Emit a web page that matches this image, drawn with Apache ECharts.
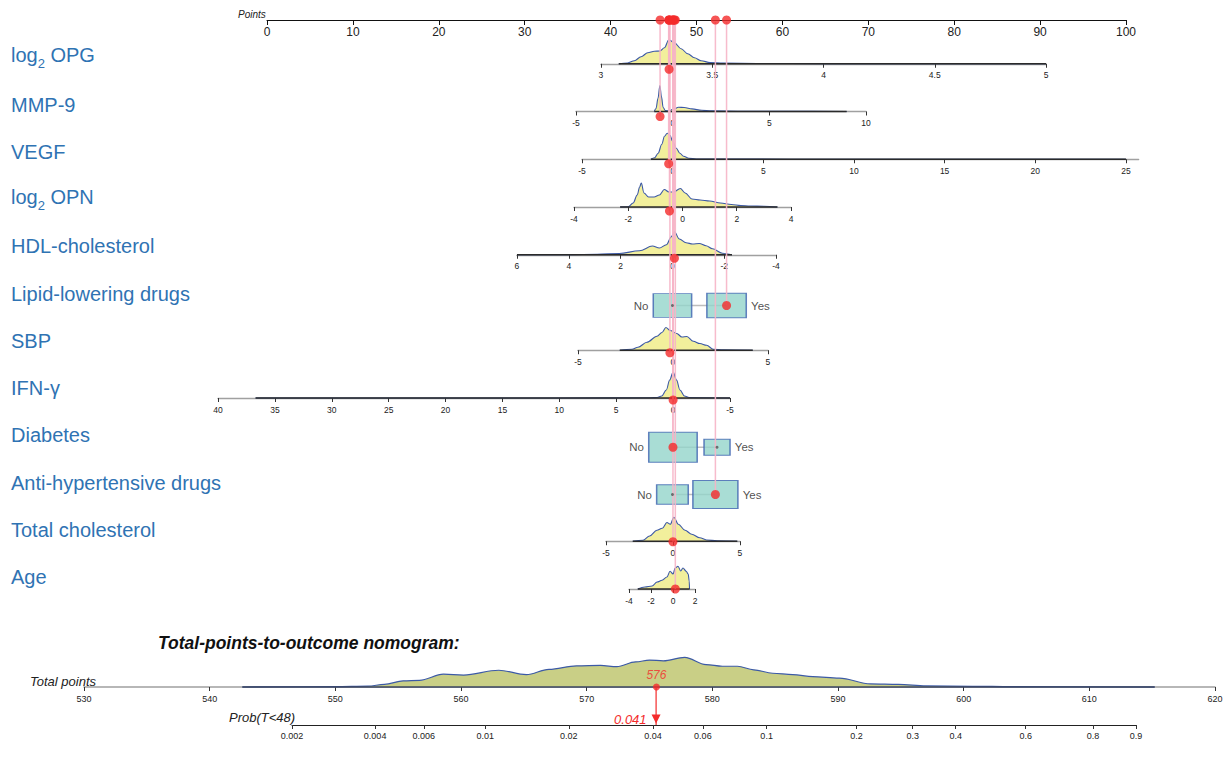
<!DOCTYPE html>
<html>
<head>
<meta charset="utf-8">
<title>Nomogram</title>
<script src="https://cdn.jsdelivr.net/npm/echarts@6/dist/echarts.min.js"></script>
<style>
  html, body { margin: 0; padding: 0; background: #fff; }
  #chart { width: 1230px; height: 763px; }
</style>
</head>
<body>
<div id="chart"></div>
<script>
// Rows of the nomogram, top to bottom (row 0 is the Points scale)
const rowNames = ['', 'log2 OPG', 'MMP-9', 'VEGF', 'log2 OPN', 'HDL-cholesterol', 'Lipid-lowering drugs',
  'SBP', 'IFN-γ', 'Diabetes', 'Anti-hypertensive drugs', 'Total cholesterol', 'Age'];

// Continuous predictors
const contNames = ['log2 OPG', 'MMP-9', 'VEGF', 'log2 OPN', 'HDL-cholesterol', 'SBP', 'IFN-γ', 'Total cholesterol', 'Age'];
const contRange = [[3, 5], [-5, 10], [-5, 25.7], [-4, 4], [-4, 6], [-5, 5], [-5, 40], [-5, 5], [-4, 2]];
const contStep = [0.5, 5, 5, 2, 2, 5, 5, 5, 2];
// points given at the low and high end of each range
const contPoints = [[38.88, 90.69], [35.97, 69.73], [36.67, 101.47], [35.74, 61.0], [59.25, 29.1],
  [36.2, 58.32], [53.9, -5.7], [39.46, 55.06], [42.14, 49.83]];
const contObserved = [3.306, -0.65, -0.22, -0.48, -0.08, -0.16, 0, 0, 0.21];

// Density curves, [value, relative height]
const densOPG = [[3.08, 0], [3.12, 0.8], [3.15, 3], [3.18, 7], [3.21, 11], [3.24, 12.5], [3.265, 12.8], [3.285, 16],
  [3.305, 24], [3.33, 21], [3.36, 15], [3.39, 10], [3.42, 6], [3.45, 3], [3.49, 1.2], [3.55, 0.6], [3.7, 0.3],
  [4.0, 0.15], [4.5, 0.1], [5.0, 0]];
const densMMP9 = [[-0.95, 0], [-0.86, 3], [-0.76, 13], [-0.66, 26], [-0.58, 15], [-0.49, 4], [-0.38, 1], [-0.2, 0.6],
  [0.05, 2.5], [0.3, 4.2], [0.6, 4], [1.0, 2.6], [1.5, 1.2], [2.0, 0.6], [3.5, 0.3], [6.0, 0.15], [9.0, 0]];
const densVEGF = [[-1.2, 0], [-1.0, 1.5], [-0.8, 6], [-0.6, 15], [-0.45, 23], [-0.3, 26], [-0.15, 24], [0, 18],
  [0.2, 11], [0.4, 6], [0.6, 3], [0.9, 1], [1.3, 0.3], [3, 0.1], [10, 0.05], [25, 0]];
const densOPN = [[-2.3, 0], [-2.0, 0.3], [-1.82, 4], [-1.67, 12], [-1.58, 20], [-1.52, 24], [-1.42, 14], [-1.25, 10],
  [-1.05, 10], [-0.85, 12], [-0.67, 17.5], [-0.5, 15], [-0.33, 15], [-0.08, 18.5], [0.1, 14], [0.35, 8], [0.65, 7],
  [1.0, 6], [1.4, 4], [1.8, 2.5], [2.15, 1.5], [2.5, 1], [3.0, 0.7], [3.5, 0]];
const densHDL = [[6, 0], [4, 0.1], [2.9, 0.4], [2.05, 1.3], [1.27, 4], [0.77, 8.7], [0.5, 6.7], [0.23, 10], [0.04, 18],
  [-0.08, 23], [-0.27, 15.7], [-0.53, 12], [-0.78, 10.7], [-1.04, 11.3], [-1.3, 9], [-1.55, 6], [-1.93, 1.5], [-2.3, 0]];
const densSBP = [[-2.8, 0], [-2.16, 1], [-1.84, 3], [-1.37, 8], [-0.84, 14], [-0.58, 17.7], [-0.37, 22.7], [-0.16, 20],
  [0.2, 16.7], [0.47, 13.3], [0.73, 13.7], [1.07, 9], [1.42, 6.7], [1.77, 5], [2.12, 1], [2.65, 0.5], [4.2, 0]];
const densIFN = [[36.7, 0], [10, 0.05], [2, 0.2], [1.4, 0.5], [1.0, 2], [0.6, 8], [0.3, 18], [0, 26], [-0.3, 18],
  [-0.6, 8], [-1.0, 2], [-1.4, 0.5], [-5, 0]];
const densTC = [[-3.0, 0], [-2.24, 1], [-1.74, 5.3], [-1.2, 11], [-0.8, 13], [-0.45, 18.7], [-0.2, 17], [0.07, 24],
  [0.4, 17], [0.9, 11], [1.4, 7], [2.0, 3.5], [2.5, 1.3], [3.3, 0.5], [4.8, 0]];
const densAge = [[-3.2, 0], [-2.55, 2], [-1.9, 3], [-1.45, 7], [-1.0, 8.7], [-0.55, 12], [-0.27, 17.7], [0, 15],
  [0.2, 21], [0.45, 22.7], [0.7, 18], [0.9, 21], [1.2, 17.7], [1.38, 15], [1.47, 8], [1.5, 0]];
const contDensity = [densOPG, densMMP9, densVEGF, densOPN, densHDL, densSBP, densIFN, densTC, densAge];

// Categorical predictors
const catNames = ['Lipid-lowering drugs', 'Diabetes', 'Anti-hypertensive drugs'];
const catLevels = ['No', 'Yes'];
const catPoints = [[47.2, 53.5], [47.26, 52.39], [47.2, 52.2]];
const catFreq = [[0.487, 0.513], [0.776, 0.224], [0.33, 0.67]];
const catObserved = ['Yes', 'No', 'Yes'];

// Total points and outcome
const totalRange = [530, 620];
const totalDensity = [[542.6, 0], [550, 0.4], [552.6, 1], [553.9, 3], [555.4, 7], [556.7, 7.5], [558.6, 14.5],
  [560.2, 13.5], [563, 19], [565.2, 14], [567, 20], [569.2, 24], [571.1, 24.5], [572.4, 23], [573.9, 28.5],
  [575, 30.5], [576.1, 29.7], [577.8, 33.6], [579.5, 25.4], [580.8, 23.5], [582, 23.5], [583.3, 19.5],
  [584.8, 15.6], [586.4, 14], [588, 11.7], [590.1, 10], [592.6, 3.5], [594.8, 3], [597, 1.2], [600.7, 0.8],
  [603.8, 0.4], [615.2, 0]];
const probTicks = [0.002, 0.004, 0.006, 0.01, 0.02, 0.04, 0.06, 0.1, 0.2, 0.3, 0.4, 0.6, 0.8, 0.9];
const probAtTotal = 0.041;

// ---- layout ----
const FONT = '"Liberation Sans", Arial, sans-serif';
const BLUE_TEXT = '#2f73b3';
const RED = '#f42b2b';
const PINK = '#f6b4c6';
const P0 = 267, PX = 8.59;        // pixel of 0 points, pixels per point
const ROW0 = 16, ROWSTEP = 47.75;  // y of row 0 and spacing
const rowY = i => ROW0 + i * ROWSTEP;
const ptX = p => P0 + p * PX;
const cll = p => Math.log(-Math.log(1 - p));

const grids = [], xAxes = [], yAxes = [], series = [];
function addGrid(g, x, y) {
  grids.push(g);
  const i = grids.length - 1;
  xAxes.push(Object.assign({ gridIndex: i, splitLine: { show: false } }, x));
  yAxes.push(Object.assign({ gridIndex: i, show: false, splitLine: { show: false } }, y));
  return i;
}

// points for each row
const rowPts = [];
contNames.forEach((name, k) => {
  const [lo, hi] = contRange[k];
  const [pLo, pHi] = contPoints[k];
  rowPts.push({ row: rowNames.indexOf(name), p: pLo + (contObserved[k] - lo) / (hi - lo) * (pHi - pLo) });
});
catNames.forEach((name, k) => {
  rowPts.push({ row: rowNames.indexOf(name), p: catPoints[k][catLevels.indexOf(catObserved[k])] });
});
const totalPoints = rowPts.reduce((s, r) => s + r.p, 0);

// Points scale
const gPts = addGrid({ left: P0, width: 100 * PX, top: 10, height: 10 },
  { type: 'value', min: 0, max: 100, interval: 10,
    axisLine: { lineStyle: { color: '#111', width: 1 } },
    axisTick: { length: 5, lineStyle: { color: '#111' } },
    axisLabel: { fontSize: 12, margin: 6, color: '#222', fontFamily: FONT } },
  { min: 0, max: 1 });

// overlay grid for connector lines, boxes and row labels
const gOv = addGrid({ left: P0, width: 100 * PX, top: ROW0, height: 12 * ROWSTEP },
  { type: 'value', min: 0, max: 100, show: false },
  { type: 'category', data: rowNames, inverse: true, boundaryGap: false, show: true,
    axisLine: { show: false }, axisTick: { show: false },
    axisLabel: {
      margin: P0 - 11, align: 'left', verticalAlign: 'middle', padding: [0, 0, 24, 0],
      formatter: v => v.indexOf('log2 ') === 0
        ? '{ml|log}{s|2}{ml| ' + v.slice(5) + '}'
        : '{m|' + v + '}',
      rich: {
        m: { fontSize: 20, color: BLUE_TEXT, fontFamily: FONT, lineHeight: 26, verticalAlign: 'middle' },
        ml: { fontSize: 20, color: BLUE_TEXT, fontFamily: FONT, lineHeight: 26, verticalAlign: 'middle', padding: [0, 0, 5, 0] },
        s: { fontSize: 13, color: BLUE_TEXT, fontFamily: FONT, lineHeight: 14, verticalAlign: 'bottom' }
      }
    } });

// continuous rows
contNames.forEach((name, k) => {
  const row = rowNames.indexOf(name);
  const [lo, hi] = contRange[k];
  const [pLo, pHi] = contPoints[k];
  const onStep = Math.abs(hi / contStep[k] - Math.round(hi / contStep[k])) < 1e-9;
  const g = addGrid({ left: ptX(Math.min(pLo, pHi)), width: Math.abs(pHi - pLo) * PX, top: rowY(row) - 30, height: 30 },
    { type: 'value', min: lo, max: hi, interval: contStep[k], inverse: pLo > pHi,
      axisLine: { lineStyle: { color: '#a0a0a0', width: 1.4 } },
      axisTick: { length: 4, lineStyle: { color: '#333' } },
      axisLabel: { fontSize: 8.5, margin: 7, color: '#222', fontFamily: FONT, showMaxLabel: onStep } },
    { min: 0, max: 30 });
  const d = contDensity[k];
  const xs = d.map(q => q[0]);
  series.push({ type: 'line', xAxisIndex: g, yAxisIndex: g, data: d, smooth: 0.35, smoothMonotone: 'x',
    symbol: 'none', silent: true, z: 2, clip: false,
    lineStyle: { color: '#3b58a6', width: 1.1 }, areaStyle: { color: '#f2ef9c', opacity: 1 } });
  series.push({ type: 'line', xAxisIndex: g, yAxisIndex: g, symbol: 'none', silent: true, z: 3, clip: false,
    data: [[Math.min(...xs), 0], [Math.max(...xs), 0]], lineStyle: { color: '#2a2a2a', width: 1.4 } });
});

// categorical rows
catNames.forEach((name, k) => {
  const row = rowNames.indexOf(name);
  series.push({ type: 'line', xAxisIndex: gOv, yAxisIndex: gOv, symbol: 'none', silent: true, z: 4,
    data: catPoints[k].map(p => [p, row]), lineStyle: { color: '#bdbdbd', width: 1.5 } });
  series.push({ type: 'scatter', xAxisIndex: gOv, yAxisIndex: gOv, symbol: 'rect', silent: true, z: 5, clip: false,
    itemStyle: { color: '#93d4ca', borderColor: '#3d63b0', borderWidth: 1.2 },
    data: catLevels.map((lev, j) => ({
      value: [catPoints[k][j], row],
      symbolSize: [55 * Math.sqrt(catFreq[k][j]), 34 * Math.sqrt(catFreq[k][j])],
      label: { show: true, formatter: lev, position: j === 0 ? 'left' : 'right', distance: 4,
        fontSize: 11.5, color: '#222', fontFamily: FONT }
    })) });
  series.push({ type: 'scatter', xAxisIndex: gOv, yAxisIndex: gOv, symbolSize: 3, silent: true, z: 7, clip: false,
    itemStyle: { color: '#555' },
    data: catLevels.filter(l => l !== catObserved[k]).map(l => [catPoints[k][catLevels.indexOf(l)], row]) });
});

// pink connector lines from the Points scale to each row
rowPts.forEach(r => {
  series.push({ type: 'line', xAxisIndex: gOv, yAxisIndex: gOv, symbol: 'none', silent: true, z: 6, clip: false,
    data: [[r.p, 0], [r.p, r.row]], lineStyle: { color: PINK, width: 1.5, opacity: 0.9 } });
});
series.push({ type: 'scatter', xAxisIndex: gOv, yAxisIndex: gOv, symbolSize: 9, silent: true, z: 10, clip: false,
  itemStyle: { color: RED }, data: rowPts.map(r => [r.p, r.row]) });
series.push({ type: 'scatter', xAxisIndex: gPts, yAxisIndex: gPts, symbolSize: 9, silent: true, z: 10, clip: false,
  itemStyle: { color: RED }, data: rowPts.map(r => [r.p, 0]) });

// total points scale
const gTot = addGrid({ left: 84, width: 1131, top: 657, height: 30 },
  { type: 'value', min: totalRange[0], max: totalRange[1], interval: 10,
    axisLine: { lineStyle: { color: '#a0a0a0', width: 1.5 } },
    axisTick: { length: 4, lineStyle: { color: '#333' } },
    axisLabel: { fontSize: 9, margin: 7, color: '#222', fontFamily: FONT } },
  { min: 0, max: 34 });
const txs = totalDensity.map(q => q[0]);
series.push({ type: 'line', xAxisIndex: gTot, yAxisIndex: gTot, data: totalDensity, smooth: 0.35,
  smoothMonotone: 'x', symbol: 'none', silent: true, z: 2, clip: false,
  lineStyle: { color: '#3c5aa6', width: 1.2 }, areaStyle: { color: '#c9cf86', opacity: 1 } });
series.push({ type: 'line', xAxisIndex: gTot, yAxisIndex: gTot, symbol: 'none', silent: true, z: 3, clip: false,
  data: [[Math.min(...txs), 0], [Math.max(...txs), 0]], lineStyle: { color: '#3a4460', width: 1.5 } });

// probability scale
const gProb = addGrid({ left: 292, width: 844, top: 687, height: 38 },
  { type: 'value', min: cll(probTicks[0]), max: cll(probTicks[probTicks.length - 1]),
    axisLine: { lineStyle: { color: '#222', width: 1 } },
    axisTick: { length: 4, lineStyle: { color: '#333' }, customValues: probTicks.map(cll) },
    axisLabel: { fontSize: 9, margin: 6, color: '#222', fontFamily: FONT, customValues: probTicks.map(cll),
      formatter: v => String(probTicks.reduce((a, b) => Math.abs(cll(b) - v) < Math.abs(cll(a) - v) ? b : a)) } },
  { min: 0, max: 1 });
series.push({ type: 'line', xAxisIndex: gProb, yAxisIndex: gProb, silent: true, z: 8, clip: false,
  lineStyle: { color: RED, width: 1.2 }, itemStyle: { color: RED },
  data: [
    { value: [cll(probAtTotal), 1], symbol: 'none' },
    { value: [cll(probAtTotal), 0], symbol: 'triangle', symbolSize: 9, symbolRotate: 180, symbolOffset: [0, -6],
      label: { show: true, position: 'left', distance: 5, formatter: String(probAtTotal),
        fontSize: 13, fontStyle: 'italic', color: RED, fontFamily: FONT } }
  ] });
series.push({ type: 'scatter', xAxisIndex: gTot, yAxisIndex: gTot, symbolSize: 7, silent: true, z: 10, clip: false,
  itemStyle: { color: RED },
  data: [{ value: [totalPoints, 0],
    label: { show: true, position: 'top', distance: 3, formatter: String(Math.round(totalPoints)),
      fontSize: 12, fontStyle: 'italic', color: RED, fontFamily: FONT } }] });

const chart = echarts.init(document.getElementById('chart'), null, { renderer: 'svg' });
chart.setOption({
  animation: false,
  backgroundColor: '#fff',
  title: [
    { text: 'Points', left: 233, top: 4, textStyle: { fontSize: 10, fontStyle: 'italic', fontWeight: 'normal', color: '#222', fontFamily: FONT } },
    { text: 'Total-points-to-outcome nomogram:', left: 153, top: 629, textStyle: { fontSize: 17.5, fontStyle: 'italic', fontWeight: 'bold', color: '#111', fontFamily: FONT } },
    { text: 'Total points', left: 25, top: 670, textStyle: { fontSize: 13, fontStyle: 'italic', fontWeight: 'normal', color: '#222', fontFamily: FONT } },
    { text: 'Prob(T<48)', left: 224, top: 706, textStyle: { fontSize: 13, fontStyle: 'italic', fontWeight: 'normal', color: '#222', fontFamily: FONT } }
  ],
  grid: grids,
  xAxis: xAxes,
  yAxis: yAxes,
  series: series
});
</script>
</body>
</html>
